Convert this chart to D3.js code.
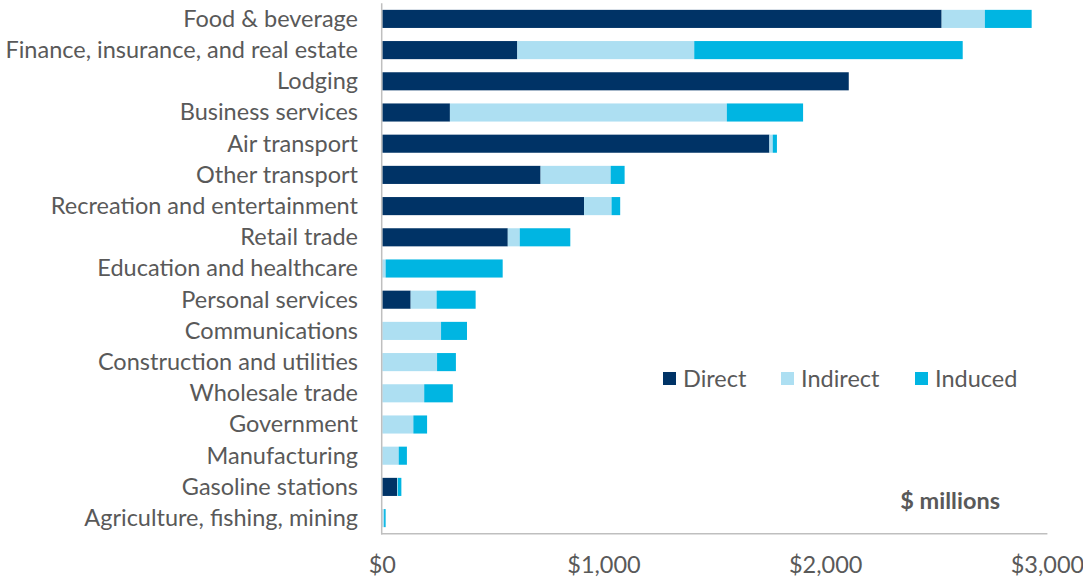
<!DOCTYPE html>
<html>
<head>
<meta charset="utf-8">
<script src="https://cdn.jsdelivr.net/npm/d3@7"></script>
<style>
  html, body { margin: 0; padding: 0; background: #fff; }
  svg { display: block; }
  text { font-family: Lato, "Open Sans", sans-serif; fill: #595959; }
</style>
</head>
<body>
<svg id="chart" width="1083" height="579"></svg>
<script>
const categories = [
  "Food & beverage",
  "Finance, insurance, and real estate",
  "Lodging",
  "Business services",
  "Air transport",
  "Other transport",
  "Recreation and entertainment",
  "Retail trade",
  "Education and healthcare",
  "Personal services",
  "Communications",
  "Construction and utilities",
  "Wholesale trade",
  "Government",
  "Manufacturing",
  "Gasoline stations",
  "Agriculture, fishing, mining"
];
const direct   = [2523, 609, 2104, 305, 1746, 714, 910, 566, 0, 128, 0, 0, 0, 0, 0, 67, 0];
const indirect = [195, 798, 0, 1249, 15, 316, 124, 54, 15, 117, 265, 247, 189, 140, 74, 3, 8];
const induced  = [211, 1211, 0, 344, 19, 63, 39, 228, 528, 176, 117, 85, 129, 62, 37, 16, 7];
const seriesNames = ["Direct", "Indirect", "Induced"];
const seriesColors = ["#003366", "#addff2", "#00b5e2"];
const tickValues = [0, 1000, 2000, 3000];
const tickLabels = ["$0", "$1,000", "$2,000", "$3,000"];
const unitLabel = "$ millions";

const svg = d3.select("#chart");
const x = d3.scaleLinear().domain([0, 3000]).range([382.3, 1047.4]);
const y = d3.scaleBand().domain(categories).range([3.3, 533.7]).paddingInner(0.42).paddingOuter(0.21);

const rows = categories.map((c, i) => ({ cat: c, Direct: direct[i], Indirect: indirect[i], Induced: induced[i] }));
const stack = d3.stack().keys(seriesNames)(rows);
const color = d3.scaleOrdinal().domain(seriesNames).range(seriesColors);

svg.append("g").selectAll("g").data(stack).join("g")
  .attr("fill", d => color(d.key))
  .selectAll("rect").data(d => d.filter(p => p[1] > p[0])).join("rect")
  .attr("x", d => x(d[0]))
  .attr("y", d => y(d.data.cat))
  .attr("width", d => x(d[1]) - x(d[0]))
  .attr("height", y.bandwidth());

// axes lines
svg.append("line").attr("x1", 381.7).attr("x2", 381.7).attr("y1", 3.3).attr("y2", 534.5)
  .attr("stroke", "#bfbfbf").attr("stroke-width", 1.5);
svg.append("line").attr("x1", 381).attr("x2", 1047.4).attr("y1", 533.8).attr("y2", 533.8)
  .attr("stroke", "#bfbfbf").attr("stroke-width", 1.5);

// category labels
svg.append("g").selectAll("text").data(categories).join("text")
  .attr("x", 358)
  .attr("y", d => y(d) + y.bandwidth() / 2)
  .attr("dy", "0.34em")
  .attr("text-anchor", "end")
  .attr("font-size", 23.5)
  .text(d => d);

// x tick labels
svg.append("g").selectAll("text").data(tickValues).join("text")
  .attr("x", d => x(d))
  .attr("y", 573)
  .attr("text-anchor", "middle")
  .attr("font-size", 23.5)
  .text((d, i) => tickLabels[i]);

// legend
const legendX = [663, 781, 915];
const lg = svg.append("g").selectAll("g").data(seriesNames).join("g")
  .attr("transform", (d, i) => `translate(${legendX[i]},372)`);
lg.append("rect").attr("width", 13).attr("height", 13).attr("fill", d => color(d));
lg.append("text").attr("x", 20).attr("y", 14.7).attr("font-size", 23.5).text(d => d);

// unit label
svg.append("text").attr("x", 1000).attr("y", 509).attr("text-anchor", "end")
  .attr("font-size", 23.5).attr("font-weight", "bold").text(unitLabel);
</script>
</body>
</html>
